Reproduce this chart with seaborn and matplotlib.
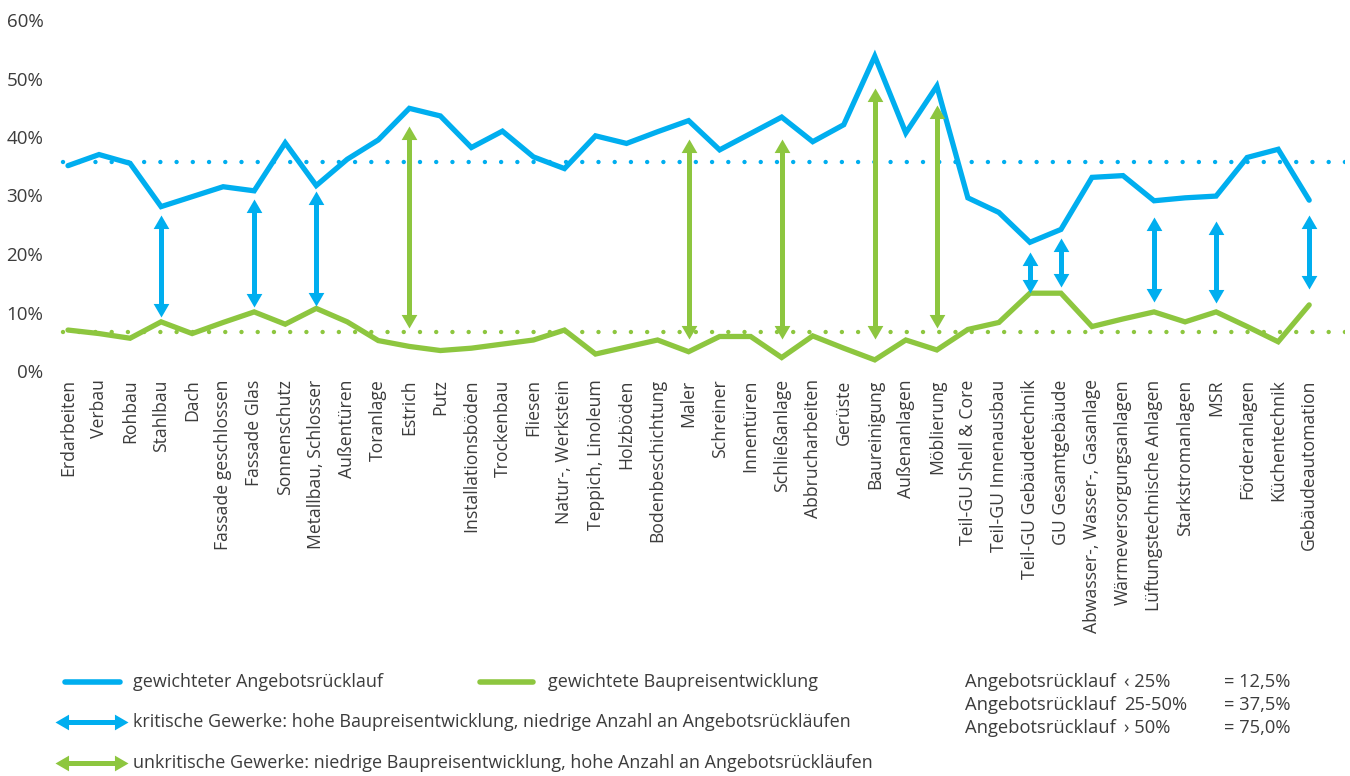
import numpy as np
import pandas as pd
import seaborn as sns
import matplotlib
matplotlib.use("Agg")
import matplotlib.pyplot as plt
from matplotlib.lines import Line2D

gewerke = [
    "Erdarbeiten", "Verbau", "Rohbau", "Stahlbau", "Dach", "Fassade geschlossen",
    "Fassade Glas", "Sonnenschutz", "Metallbau, Schlosser", "Außentüren", "Toranlage",
    "Estrich", "Putz", "Installationsböden", "Trockenbau", "Fliesen", "Natur-, Werkstein",
    "Teppich, Linoleum", "Holzböden", "Bodenbeschichtung", "Maler", "Schreiner",
    "Innentüren", "Schließanlage", "Abbrucharbeiten", "Gerüste", "Baureinigung",
    "Außenanlagen", "Möblierung", "Teil-GU Shell & Core", "Teil-GU Innenausbau",
    "Teil-GU Gebäudetechnik", "GU Gesamtgebäude", "Abwasser-, Wasser-, Gasanlage",
    "Wärmeversorgungsanlagen", "Lüftungstechnische Anlagen", "Starkstromanlagen", "MSR",
    "Förderanlagen", "Küchentechnik", "Gebäudeautomation",
]

angebotsruecklauf = [
    35.1, 37.0, 35.5, 28.1, 29.8, 31.5, 30.8, 39.0, 31.7, 36.2, 39.5,
    44.9, 43.6, 38.2, 41.0, 36.6, 34.6, 40.2, 38.9, 40.9, 42.8, 37.8,
    40.6, 43.4, 39.2, 42.1, 53.8, 40.7, 48.7, 29.6, 27.1,
    22.0, 24.2, 33.1, 33.4, 29.1, 29.6, 29.9, 36.5, 37.9, 29.2,
]

baupreisentwicklung = [
    7.0, 6.4, 5.6, 8.4, 6.4, 8.3, 10.1, 8.0, 10.7, 8.4, 5.2,
    4.2, 3.5, 3.9, 4.6, 5.3, 7.0, 2.9, 4.1, 5.3, 3.3, 5.9,
    5.9, 2.3, 6.0, 3.9, 1.9, 5.3, 3.6, 7.1, 8.3,
    13.3, 13.3, 7.6, 8.9, 10.1, 8.4, 10.1, 7.6, 5.0, 11.3,
]

mittel_angebotsruecklauf = 35.8
mittel_baupreisentwicklung = 6.6

# critical trades: (trade, lower end, upper end)
kritisch = [
    ("Stahlbau", 9.2, 26.7), ("Fassade Glas", 11.0, 29.4), ("Metallbau, Schlosser", 11.1, 30.8),
    ("Teil-GU Gebäudetechnik", 13.3, 20.4), ("GU Gesamtgebäude", 14.4, 22.7),
    ("Lüftungstechnische Anlagen", 11.8, 26.4), ("MSR", 11.6, 25.6),
    ("Gebäudeautomation", 14.1, 26.7),
]
# uncritical trades: (trade, lower end, upper end)
unkritisch = [
    ("Estrich", 7.3, 41.9), ("Maler", 5.4, 39.6), ("Schließanlage", 5.4, 39.6),
    ("Baureinigung", 5.4, 48.4), ("Möblierung", 7.3, 45.5),
]

ytick_vals = [0, 10, 20, 30, 40, 50, 60]
ytick_labels = ["0%", "10%", "20%", "30%", "40%", "50%", "60%"]

legende_links = [
    "gewichteter Angebotsrücklauf",
    "gewichtete Baupreisentwicklung",
    "kritische Gewerke: hohe Baupreisentwicklung, niedrige Anzahl an Angebotsrückläufen",
    "unkritische Gewerke: niedrige Baupreisentwicklung, hohe Anzahl an Angebotsrückläufen",
]
legende_rechts = [
    ("Angebotsrücklauf", "\u2039 25%", "= 12,5%"),
    ("Angebotsrücklauf", "25-50%", "= 37,5%"),
    ("Angebotsrücklauf", "\u203a 50%", "= 75,0%"),
]

BLAU = "#00aeef"
GRUEN = "#8dc63f"
TEXT = "#3c3c3c"

sns.set_theme(style="white")
plt.rcParams["font.family"] = ["Open Sans", "DejaVu Sans"]

W, H = 1350, 776
fig = plt.figure(figsize=(W / 100, H / 100), dpi=100)

# category i sits at x = 68 + 31.03*i px, 0% at y=371 px, 60% at y=20 px
step = 31.03
left_px, right_px = 60, 1345
ax = fig.add_axes([left_px / W, (H - 371) / H, (right_px - left_px) / W, (371 - 20) / H])
ax.set_xlim((left_px - 68) / step, (right_px - 68) / step)
ax.set_ylim(0, 60)

df = pd.DataFrame({
    "pos": np.arange(len(gewerke)),
    "Gewerk": gewerke,
    "Angebotsrücklauf": angebotsruecklauf,
    "Baupreisentwicklung": baupreisentwicklung,
})

# dotted averages
xs_dot = [(63 - 68) / step, (1345 - 68) / step]
for wert, farbe in ((mittel_angebotsruecklauf, BLAU), (mittel_baupreisentwicklung, GRUEN)):
    ax.plot(xs_dot, [wert, wert], color=farbe, lw=3.2,
            linestyle=(0, (0.001, 3.65)), dash_capstyle="round", zorder=1)

sns.lineplot(data=df, x="pos", y="Angebotsrücklauf", color=BLAU, lw=3.8, ax=ax, zorder=3)
sns.lineplot(data=df, x="pos", y="Baupreisentwicklung", color=GRUEN, lw=3.8, ax=ax, zorder=3)
for ln in ax.lines[2:]:
    ln.set_solid_joinstyle("miter")

# arrow heads: triangles with the tip at the marker origin
HEAD_UP = [(0, 0), (-0.58, -1), (0.58, -1), (0, 0)]
HEAD_DOWN = [(0, 0), (-0.58, 1), (0.58, 1), (0, 0)]
HEAD_LEFT = [(0, 0), (1, -0.58), (1, 0.58), (0, 0)]
HEAD_RIGHT = [(0, 0), (-1, -0.58), (-1, 0.58), (0, 0)]
HEAD_MS = 19.5
SHAFT_LW = 3.6


def doppelpfeil_vertikal(i, lo, hi, farbe):
    ax.plot([i, i], [lo + 1.2, hi - 1.2], color=farbe, lw=SHAFT_LW,
            solid_capstyle="butt", zorder=4)
    ax.plot([i], [hi], marker=HEAD_UP, ms=HEAD_MS, mew=0, color=farbe, zorder=5)
    ax.plot([i], [lo], marker=HEAD_DOWN, ms=HEAD_MS, mew=0, color=farbe, zorder=5)


for name, lo, hi in kritisch:
    doppelpfeil_vertikal(gewerke.index(name), lo, hi, BLAU)
for name, lo, hi in unkritisch:
    doppelpfeil_vertikal(gewerke.index(name), lo, hi, GRUEN)

ax.set_xticks(df["pos"])
ax.set_xticklabels(gewerke, rotation=90, ha="center", va="top", fontsize=12.7, color=TEXT)
ax.set_yticks(ytick_vals)
ax.set_yticklabels(ytick_labels, fontsize=13.5, color=TEXT)
ax.tick_params(axis="x", length=0, pad=6)
ax.tick_params(axis="y", length=0, pad=12)
ax.set_xlabel("")
ax.set_ylabel("")
sns.despine(ax=ax, left=True, bottom=True)
ax.grid(False)


def fx(px):
    return px / W


def fy(py):
    return 1 - py / H


# legend block
tf = fig.transFigure
fig.add_artist(Line2D([fx(65), fx(120)], [fy(682), fy(682)], color=BLAU, lw=4, transform=tf))
fig.add_artist(Line2D([fx(480), fx(533)], [fy(682), fy(682)], color=GRUEN, lw=4, transform=tf))
for yy, farbe in ((722, BLAU), (763, GRUEN)):
    fig.add_artist(Line2D([fx(62), fx(121)], [fy(yy), fy(yy)], color=farbe, lw=SHAFT_LW,
                          solid_capstyle="butt", transform=tf))
    fig.add_artist(Line2D([fx(55)], [fy(yy)], marker=HEAD_LEFT, ms=HEAD_MS, mew=0,
                          color=farbe, transform=tf))
    fig.add_artist(Line2D([fx(128)], [fy(yy)], marker=HEAD_RIGHT, ms=HEAD_MS, mew=0,
                          color=farbe, transform=tf))

leg_kw = dict(fontsize=13.0, color=TEXT, va="center", ha="left")
fig.text(fx(133), fy(682), legende_links[0], **leg_kw)
fig.text(fx(548), fy(682), legende_links[1], **leg_kw)
fig.text(fx(133), fy(722), legende_links[2], **leg_kw)
fig.text(fx(133), fy(763), legende_links[3], **leg_kw)

for k, (a, b, c) in enumerate(legende_rechts):
    yy = fy(682 + k * 23)
    fig.text(fx(965), yy, a, fontsize=13.2, color=TEXT, va="center", ha="left")
    fig.text(fx(1124), yy, b, fontsize=13.2, color=TEXT, va="center", ha="left")
    fig.text(fx(1224), yy, c, fontsize=13.2, color=TEXT, va="center", ha="left")

fig.savefig("out.png", dpi=100)
